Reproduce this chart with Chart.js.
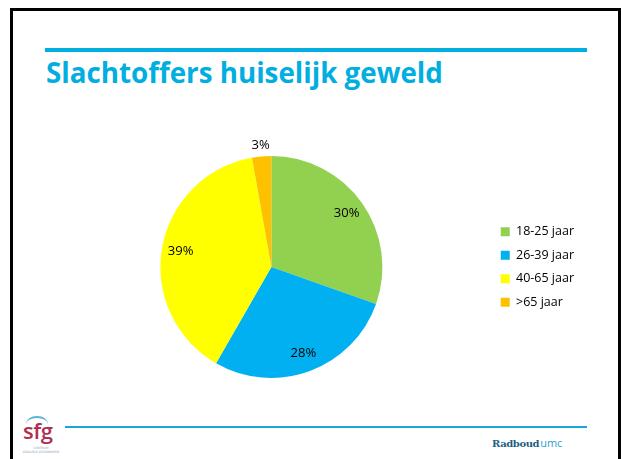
<!DOCTYPE html>
<html>
<head>
<meta charset="utf-8">
<script src="https://cdn.jsdelivr.net/npm/chart.js@4/dist/chart.umd.min.js"></script>
<style>
  body { margin: 0; width: 621px; height: 459px; background: #fff; position: relative; overflow: hidden; }
  .frame { position: absolute; left: 10px; top: 8px; width: 605px; height: 470px; border: 3px solid #000; }
  .topline { position: absolute; left: 45px; top: 48px; width: 542px; height: 4px; background: #00aee0; }
  .title { position: absolute; left: 46px; top: 52px; font-family: "Open Sans", sans-serif; font-weight: 700;
           font-size: 29px; color: #00aee0; white-space: nowrap; transform-origin: left top; }
  .chartbox { position: absolute; left: 0; top: 130px; width: 621px; height: 274px; }
  .footline { position: absolute; left: 65px; top: 426px; width: 522px; height: 1.5px; background: #17a6d8; }
  .radboud { position: absolute; left: 492px; top: 435px; font-size: 10px; white-space: nowrap; }
  .radboud .r { font-family: "DejaVu Serif", serif; font-weight: 700; color: #1c5f85; letter-spacing: -0.4px; }
  .radboud .u { font-family: "Open Sans", sans-serif; font-size: 11px; color: #2a9fd0; margin-left: 1px; }
  .logo { position: absolute; left: 18px; top: 412px; width: 40px; height: 44px; }
  .logo .arc { position: absolute; left: 8px; top: 4px; width: 22px; height: 14px; border-top: 2px solid #5ab0d6; border-radius: 50%; }
  .logo .sfg { position: absolute; left: 5px; top: 3px; font-family: "Open Sans", sans-serif; font-weight: 600; font-size: 22px; color: #b03052; letter-spacing: -0.5px; }
  .logo .small { position: absolute; left: 0px; width: 46px; font-family: "DejaVu Sans", sans-serif; font-size: 3px; color: #8aa0b0; text-align: center; }
</style>
</head>
<body>
<div class="frame"></div>
<div class="topline"></div>
<div class="title" id="title">Slachtoffers huiselijk geweld</div>
<div class="chartbox"><canvas id="pieChart" width="621" height="274"></canvas></div>
<div class="logo">
  <div class="arc"></div>
  <div class="sfg">sfg</div>
  <div class="small" style="top:34px">CENTRUM</div>
  <div class="small" style="top:38px">SEKSUELE GEZONDHEID</div>
</div>
<div class="footline"></div>
<div class="radboud"><span class="r">Radboud</span><span class="u">umc</span></div>

<script>
const categories = ["18-25 jaar", "26-39 jaar", "40-65 jaar", ">65 jaar"];
const shares = [30.4, 27.9, 38.9, 2.8];
const percentLabels = ["30%", "28%", "39%", "3%"];
const sliceColors = ["#92d050", "#00b0f0", "#ffff00", "#ffc000"];

// fit title to the width seen in the slide
const titleEl = document.getElementById("title");
titleEl.style.transform = "scaleX(" + (397 / titleEl.offsetWidth) + ")";

const percentLabelPlugin = {
  id: "percentLabels",
  afterDatasetsDraw(chart) {
    const ctx = chart.ctx;
    const meta = chart.getDatasetMeta(0);

    ctx.save();
    ctx.font = "13px 'Open Sans', sans-serif";
    ctx.fillStyle = "#000";
    ctx.textAlign = "center";
    ctx.textBaseline = "middle";

    meta.data.forEach((arc, i) => {
      const props = arc.getProps(["x", "y", "startAngle", "endAngle", "outerRadius"], true);
      const mid = (props.startAngle + props.endAngle) / 2;
      const factor = shares[i] < 5 ? 1.1 : 0.83;
      const r = props.outerRadius * factor;
      ctx.fillText(percentLabels[i], props.x + Math.cos(mid) * r, props.y + Math.sin(mid) * r);
    });

    ctx.restore();
  },
};

new Chart(document.getElementById("pieChart"), {
  type: "pie",

  data: {
    labels: categories,

    datasets: [
      {
        data: shares,

        backgroundColor: sliceColors,

        borderWidth: 0,
      },
    ],
  },

  options: {
    responsive: false,

    animation: false,

    layout: {
      padding: { left: 53, right: 37, top: 26, bottom: 26 },
    },

    plugins: {
      legend: {
        position: "right",

        labels: {
          boxWidth: 9,

          boxHeight: 9,

          padding: 11,

          color: "#000",

          font: {
            family: "Open Sans",

            size: 12.5,
          },
        },
      },

      tooltip: {
        enabled: false,
      },
    },
  },

  plugins: [percentLabelPlugin],
});
</script>
</body>
</html>
